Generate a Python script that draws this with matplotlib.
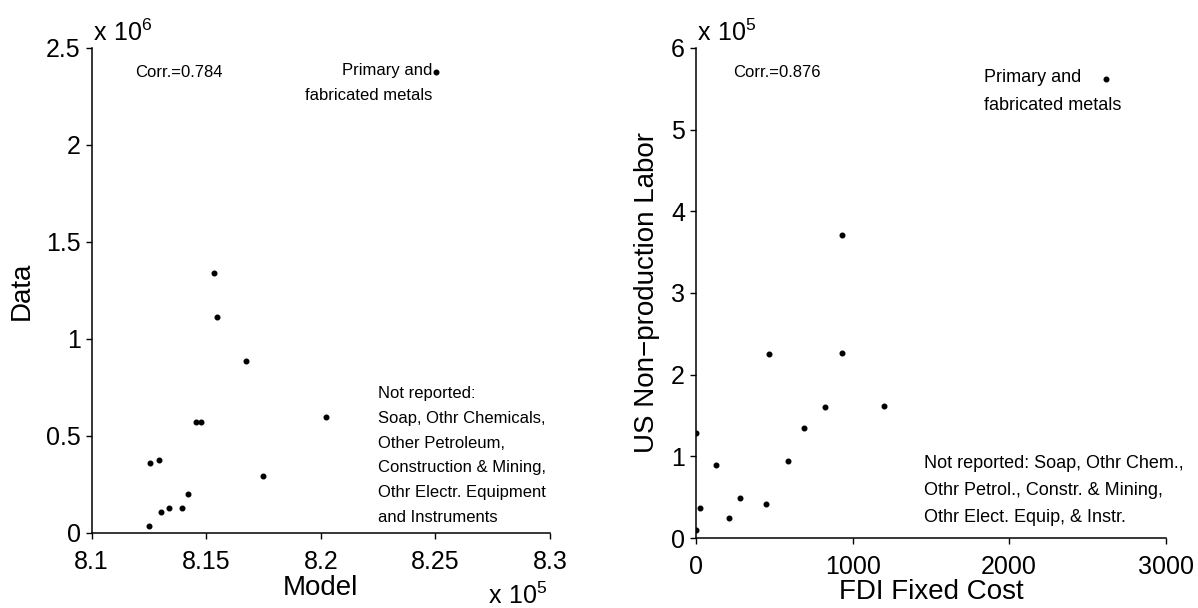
import numpy as np
import matplotlib.pyplot as plt
from matplotlib.ticker import FuncFormatter
from matplotlib.transforms import ScaledTranslation

plt.rcParams['font.family'] = ['Liberation Sans', 'DejaVu Sans']

# Left panel: model vs data (model in units of 1e5, data in units of 1e6)
model = [8.1535, 8.1547, 8.1673, 8.1455, 8.1478, 8.2022, 8.1253, 8.1294,
         8.1749, 8.1421, 8.1301, 8.1337, 8.1394, 8.1251, 8.2502]
data = [1.340, 1.112, 0.885, 0.574, 0.571, 0.596, 0.359, 0.375,
        0.295, 0.203, 0.108, 0.127, 0.130, 0.035, 2.376]

# Right panel: FDI fixed cost vs US non-production labor (labor in units of 1e5)
fdi_cost = [934, 468, 934, 1200, 823, 691, 2, 587, 128, 281, 28, 449, 213, 2, 2620]
nonprod_labor = [3.709, 2.248, 2.268, 1.619, 1.600, 1.346, 1.289, 0.942,
                 0.897, 0.494, 0.371, 0.416, 0.241, 0.098, 5.620]

corr_left = 0.784
corr_right = 0.876

left_yticks = [0, 0.5, 1, 1.5, 2, 2.5]
left_xticks = [8.1, 8.15, 8.2, 8.25, 8.3]
right_yticks = [0, 1, 2, 3, 4, 5, 6]
right_xticks = [0, 1000, 2000, 3000]

fig = plt.figure(figsize=(11.98, 6.08), dpi=100)
ax1 = fig.add_axes([0.0765, 0.1234, 0.3826, 0.7977])
ax2 = fig.add_axes([0.581, 0.1151, 0.392, 0.806])

for ax in (ax1, ax2):
    ax.spines['top'].set_visible(False)
    ax.spines['right'].set_visible(False)
    ax.tick_params(direction='out', length=4, width=1, labelsize=18)
    ax.tick_params(axis='x', pad=8)
    ax.tick_params(axis='y', pad=4)
    ax.spines['left'].set_linewidth(1.1)
    ax.spines['bottom'].set_linewidth(1.1)

# left scatter
ax1.plot(model, data, 'o', color='black', markersize=3.3)
ax1.set_xlim(8.1, 8.3)
ax1.set_ylim(0, 2.5)
ax1.set_xticks(left_xticks)
ax1.set_yticks(left_yticks)
ax1.xaxis.set_major_formatter(FuncFormatter(lambda v, p: '%g' % round(v, 3)))
ax1.yaxis.set_major_formatter(FuncFormatter(lambda v, p: '%g' % v))
ax1.set_xlabel('Model', fontsize=20, labelpad=1)
ax1.set_ylabel('Data', fontsize=20, labelpad=8)

ax1.text(8.1189, 2.376, 'Corr.=%.3f' % corr_left, fontsize=12, va='center', ha='left')
ax1.text(8.2485, 2.376, 'Primary and\nfabricated metals', fontsize=12,
         ha='right', va='top', linespacing=1.86,
         transform=ax1.transData + ScaledTranslation(0, 9 / 100, fig.dpi_scale_trans))
ax1.text(8.2249, 0.758,
         'Not reported:\nSoap, Othr Chemicals,\nOther Petroleum,\nConstruction & Mining,\n'
         'Othr Electr. Equipment\nand Instruments',
         fontsize=12, ha='left', va='top', linespacing=1.82)

# right scatter
ax2.plot(fdi_cost, nonprod_labor, 'o', color='black', markersize=3.3)
ax2.set_xlim(0, 3000)
ax2.set_ylim(0, 6)
ax2.set_xticks(right_xticks)
ax2.set_yticks(right_yticks)
ax2.set_xlabel('FDI Fixed Cost', fontsize=20, labelpad=0)
ax2.set_ylabel('US Non\u2212production Labor', fontsize=20, labelpad=8)

ax2.text(240, 5.70, 'Corr.=%.3f' % corr_right, fontsize=12, va='center', ha='left')
ax2.text(1840, 5.62, 'Primary and\nfabricated metals', fontsize=13,
         ha='left', va='top', linespacing=1.86,
         transform=ax2.transData + ScaledTranslation(0, 10 / 100, fig.dpi_scale_trans))
ax2.text(1455, 1.02,
         'Not reported: Soap, Othr Chem.,\nOthr Petrol., Constr. & Mining,\nOthr Elect. Equip, & Instr.',
         fontsize=13, ha='left', va='top', linespacing=1.78)

# scale factors
fig.text(93 / 1198, (608 - 41) / 608, r'$\mathregular{x\ 10^{6}}$', fontsize=18, va='baseline')
fig.text(488 / 1198, (608 - 604) / 608, r'$\mathregular{x\ 10^{5}}$', fontsize=18, va='baseline')
fig.text(697 / 1198, (608 - 41) / 608, r'$\mathregular{x\ 10^{5}}$', fontsize=18, va='baseline')

fig.savefig('out.png', dpi=100)
